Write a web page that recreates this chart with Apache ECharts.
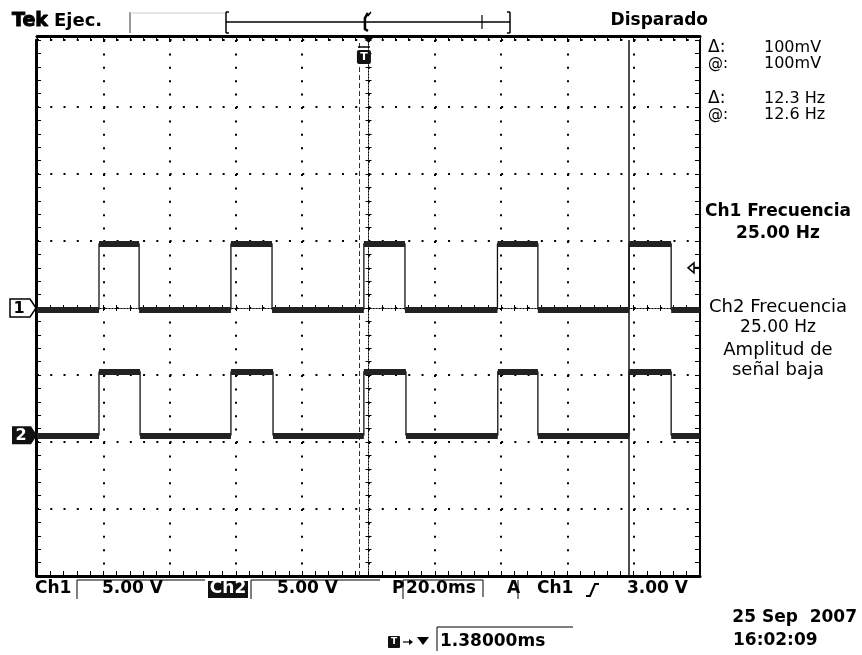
<!DOCTYPE html>
<html>
<head>
<meta charset="utf-8">
<script src="https://cdn.jsdelivr.net/npm/echarts@6/dist/echarts.min.js"></script>
<style>
  html, body { margin: 0; padding: 0; background: #fff; }
  #scope { width: 862px; height: 655px; }
</style>
</head>
<body>
<div id="scope"></div>
<script>
// ---- Time base: 20 ms/div over 10 divisions ----
const msPerDiv = 20;
const timeMin = -100;
const timeMax = 100;

// ---- Vertical scale: 5 V/div over 8 divisions ----
const ch1VoltsPerDiv = 5;
const ch2VoltsPerDiv = 5;
const ch2PositionDiv = -1.9;   // Ch2 ground marker below screen centre

// ---- Channel 1 square wave (edge times in ms, levels in V) ----
const ch1Rise = [-81.3, -41.5, -1.4, 38.9, 78.6];
const ch1Fall = [-69.2, -29.1, 11.0, 51.1, 91.3];
const ch1Low = -0.1;
const ch1High = 4.8;

// ---- Channel 2 square wave ----
const ch2Rise = [-81.3, -41.5, -1.4, 39.0, 78.6];
const ch2Fall = [-68.9, -28.8, 11.3, 51.1, 91.3];
const ch2Low = 0.0;
const ch2High = 4.75;

// ---- Time cursors (ms) and trigger ----
const cursorTimes = [-2.7, 78.6];
const triggerTime = -1.38;
const triggerLevel = 3.0;

const FONT = '"DejaVu Sans", sans-serif';

function buildTrace(rises, falls, low, high) {
  const pts = [[timeMin, low]];
  rises.forEach((r, i) => {
    pts.push([r, low], [r, high], [falls[i], high], [falls[i], low]);
  });
  pts.push([timeMax, low]);
  return pts;
}

function buildPlateaus(rises, falls, low, high) {
  const segs = [];
  let start = timeMin;
  rises.forEach((r, i) => {
    segs.push({ coords: [[start, low], [r, low]] });
    segs.push({ coords: [[r, high], [falls[i], high]] });
    start = falls[i];
  });
  segs.push({ coords: [[start, low], [timeMax, low]] });
  return segs;
}

const ch1Span = 4 * ch1VoltsPerDiv;
const ch2Min = (-4 - ch2PositionDiv) * ch2VoltsPerDiv;
const ch2Max = (4 - ch2PositionDiv) * ch2VoltsPerDiv;

const hidden = { show: false };
function timeAxis(extra) {
  return Object.assign({
    type: 'value', min: timeMin, max: timeMax, interval: msPerDiv,
    axisLabel: hidden, splitLine: hidden,
    axisTick: hidden, minorTick: hidden,
    axisLine: { show: false, onZero: false }
  }, extra);
}
function voltAxis(extra) {
  return Object.assign({
    type: 'value', min: -ch1Span, max: ch1Span, interval: ch1VoltsPerDiv,
    axisLabel: hidden, splitLine: hidden,
    axisTick: hidden, minorTick: hidden,
    axisLine: { show: false, onZero: false }
  }, extra);
}
const edgeTick = { show: true, inside: true, length: 5, lineStyle: { color: '#000', width: 1 } };
const edgeMinor = { show: true, splitNumber: 5, length: 5, lineStyle: { color: '#000', width: 1 } };
const crossTickOut = { show: true, inside: false, length: 3, lineStyle: { color: '#000', width: 1 } };
const crossTickIn = { show: true, inside: true, length: 3, lineStyle: { color: '#000', width: 1 } };
const crossMinor = { show: true, splitNumber: 5, length: 3, lineStyle: { color: '#000', width: 1 } };
const centreLine = { show: true, onZero: true, onZeroAxisIndex: 0, lineStyle: { color: '#000', width: 1, type: [1, 2] } };

const chart = echarts.init(document.getElementById('scope'));

chart.setOption({
  animation: false,
  backgroundColor: '#fff',
  grid: { left: 37, top: 40, width: 663, height: 536, show: false },
  xAxis: [
    timeAxis({
      position: 'bottom',
      axisLine: { show: true, onZero: false, lineStyle: { color: '#000', width: 3 } },
      axisTick: edgeTick, minorTick: edgeMinor,
      splitLine: { show: true, lineStyle: { color: '#000', width: 2, type: [2, 11.4] } }
    }),
    timeAxis({
      position: 'top', offset: 4,
      axisLine: { show: true, onZero: false, lineStyle: { color: '#000', width: 3 } },
      axisTick: edgeTick, minorTick: edgeMinor
    }),
    timeAxis({ position: 'bottom', axisLine: centreLine, axisTick: crossTickOut, minorTick: crossMinor }),
    timeAxis({ position: 'bottom', axisLine: centreLine, axisTick: crossTickIn, minorTick: crossMinor })
  ],
  yAxis: [
    voltAxis({
      position: 'left', offset: 1,
      axisLine: { show: true, onZero: false, lineStyle: { color: '#000', width: 3 } },
      axisTick: edgeTick, minorTick: edgeMinor,
      splitLine: { show: true, lineStyle: { color: '#000', width: 2, type: [2, 11.26] } }
    }),
    { type: 'value', min: ch2Min, max: ch2Max, show: false },
    voltAxis({
      position: 'right',
      axisLine: { show: true, onZero: false, lineStyle: { color: '#000', width: 2 } },
      axisTick: edgeTick, minorTick: edgeMinor
    }),
    voltAxis({ position: 'left', axisLine: centreLine, axisTick: crossTickOut, minorTick: crossMinor }),
    voltAxis({ position: 'left', axisLine: centreLine, axisTick: crossTickIn, minorTick: crossMinor })
  ],
  series: [
    {
      name: 'Ch1', type: 'line', xAxisIndex: 0, yAxisIndex: 0,
      data: buildTrace(ch1Rise, ch1Fall, ch1Low, ch1High),
      showSymbol: false, symbol: 'none',
      lineStyle: { color: '#111', width: 1.3 },
      z: 5,
      markLine: {
        silent: true, symbol: ['none', 'none'], label: { show: false },
        data: [
          { xAxis: cursorTimes[0], lineStyle: { color: '#333', width: 1, type: [5, 3] } },
          { xAxis: cursorTimes[1], lineStyle: { color: '#111', width: 1.5, type: 'solid' } }
        ]
      }
    },
    {
      name: 'Ch1 plateaus', type: 'lines', coordinateSystem: 'cartesian2d',
      xAxisIndex: 0, yAxisIndex: 0,
      data: buildPlateaus(ch1Rise, ch1Fall, ch1Low, ch1High),
      lineStyle: { color: '#222', width: 6, opacity: 1, cap: 'butt' },
      z: 6
    },
    {
      name: 'Ch2', type: 'line', xAxisIndex: 0, yAxisIndex: 1,
      data: buildTrace(ch2Rise, ch2Fall, ch2Low, ch2High),
      showSymbol: false, symbol: 'none',
      lineStyle: { color: '#111', width: 1.3 },
      z: 5
    },
    {
      name: 'Ch2 plateaus', type: 'lines', coordinateSystem: 'cartesian2d',
      xAxisIndex: 0, yAxisIndex: 1,
      data: buildPlateaus(ch2Rise, ch2Fall, ch2Low, ch2High),
      lineStyle: { color: '#222', width: 6, opacity: 1, cap: 'butt' },
      z: 6
    }
  ]
});

// ---- Screen annotations ----
function txt(text, x, y, size, opts) {
  opts = opts || {};
  return {
    type: 'text', silent: true, z: 110,
    style: Object.assign({
      text: text, x: x, y: y,
      font: (opts.bold ? 'bold ' : '') + size + 'px ' + FONT,
      fill: opts.fill || '#000',
      align: opts.align || 'left', verticalAlign: 'middle'
    }, opts.style || {})
  };
}
function seg(x1, y1, x2, y2, w, color) {
  return {
    type: 'line', silent: true, z: 100,
    shape: { x1: x1, y1: y1, x2: x2, y2: y2 },
    style: { stroke: color || '#000', lineWidth: w || 1 }
  };
}
function box(x, y, w, h, fill, r) {
  return { type: 'rect', silent: true, z: 100, shape: { x: x, y: y, width: w, height: h, r: r || 0 }, style: { fill: fill } };
}

const ch1Zero = chart.convertToPixel({ xAxisIndex: 0, yAxisIndex: 0 }, [timeMin, 0]);
const ch2Zero = chart.convertToPixel({ xAxisIndex: 0, yAxisIndex: 1 }, [timeMin, 0]);
const trigLvl = chart.convertToPixel({ xAxisIndex: 0, yAxisIndex: 0 }, [timeMax, triggerLevel]);
const centre = chart.convertToPixel({ xAxisIndex: 0, yAxisIndex: 0 }, [0, 0]);
const trigPt = chart.convertToPixel({ xAxisIndex: 0, yAxisIndex: 0 }, [triggerTime, 0]);

const g = [];

// Header
g.push(txt('Tek', 12, 21, 19, { bold: true, style: { stroke: '#000', lineWidth: 1 } }));
g.push(txt('Ejec.', 54, 21, 18, { bold: true }));
g.push(txt('Disparado', 708, 21, 17, { bold: true, align: 'right' }));

// Record-length bar
g.push(seg(130, 12, 130, 33, 1, '#333'));
g.push(seg(130, 13, 226, 13, 1, '#ccc'));
g.push(seg(226, 12, 226, 33, 1.5, '#000'));
g.push(seg(226, 12, 229, 12, 1.5, '#000'));
g.push(seg(226, 33, 229, 33, 1.5, '#000'));
g.push(seg(226, 22, 510, 22, 1.5, '#000'));
g.push(seg(482, 15, 482, 29, 1.2, '#000'));
g.push(seg(510, 12, 510, 33, 1.5, '#000'));
g.push(seg(507, 12, 510, 12, 1.5, '#000'));
g.push(seg(507, 33, 510, 33, 1.5, '#000'));
g.push({
  type: 'polyline', silent: true, z: 101,
  shape: { points: [[trigPt[0] + 4, 13], [trigPt[0] + 1, 18], [trigPt[0] + 1, 29], [trigPt[0] + 4, 31]] },
  style: { stroke: '#000', lineWidth: 2.5, fill: null }
});
g.push(seg(trigPt[0] + 4, 16, trigPt[0] + 7, 12, 1.5, '#000'));

// Expansion point (centre) and trigger position marker
g.push({
  type: 'polygon', silent: true, z: 101,
  shape: { points: [[centre[0] - 7, 35], [centre[0] + 7, 35], [centre[0], 43]] },
  style: { fill: '#000' }
});
g.push(seg(trigPt[0] - 6, 47, trigPt[0] + 6, 47, 1.5, '#000'));
g.push(box(trigPt[0] - 7, 50, 14, 14, '#111', 2));
g.push(txt('T', trigPt[0], 57, 11, { bold: true, fill: '#fff', align: 'center' }));

// Channel ground markers
g.push({
  type: 'polygon', silent: true, z: 101,
  shape: { points: [[10, ch1Zero[1] - 9], [30, ch1Zero[1] - 9], [36, ch1Zero[1]], [30, ch1Zero[1] + 9], [10, ch1Zero[1] + 9]] },
  style: { fill: '#fff', stroke: '#000', lineWidth: 1.5 }
});
g.push(txt('1', 19, ch1Zero[1] + 1, 16, { bold: true, align: 'center' }));
g.push({
  type: 'polygon', silent: true, z: 101,
  shape: { points: [[12, ch2Zero[1] - 9], [31, ch2Zero[1] - 9], [37, ch2Zero[1]], [31, ch2Zero[1] + 9], [12, ch2Zero[1] + 9]] },
  style: { fill: '#111' }
});
g.push(txt('2', 21, ch2Zero[1] + 1, 16, { bold: true, fill: '#fff', align: 'center' }));

// Trigger level arrow on the right edge
g.push({
  type: 'polygon', silent: true, z: 101,
  shape: { points: [[688, trigLvl[1]], [694, trigLvl[1] - 5], [694, trigLvl[1] + 5]] },
  style: { fill: '#fff', stroke: '#000', lineWidth: 1.5 }
});
g.push(seg(694, trigLvl[1], 700, trigLvl[1], 2, '#000'));

// Cursor readouts
g.push(txt('\u0394:', 708, 48, 17));
g.push(txt('100mV', 764, 48, 16));
g.push(txt('@:', 708, 64, 15));
g.push(txt('100mV', 764, 64, 16));
g.push(txt('\u0394:', 708, 99, 17));
g.push(txt('12.3 Hz', 764, 99, 16));
g.push(txt('@:', 708, 115, 15));
g.push(txt('12.6 Hz', 764, 115, 16));

// Measurements
g.push(txt('Ch1 Frecuencia', 778, 212, 17, { bold: true, align: 'center' }));
g.push(txt('25.00 Hz', 778, 234, 17, { bold: true, align: 'center' }));
g.push(txt('Ch2 Frecuencia', 778, 307, 18, { align: 'center' }));
g.push(txt('25.00 Hz', 778, 328, 17, { align: 'center' }));
g.push(txt('Amplitud de', 778, 350, 18, { align: 'center' }));
g.push(txt('se\u00f1al baja', 778, 370, 18, { align: 'center' }));

// Status bar
const sy = 589;
g.push(txt('Ch1', 35, sy, 17, { bold: true }));
g.push(seg(77, 580, 77, 599, 1, '#000'));
g.push(seg(77, 580, 205, 580, 1, '#000'));
g.push(txt('5.00 V', 102, sy, 17, { bold: true }));
g.push(box(208, 581, 40, 17, '#111'));
g.push(txt('Ch2', 228, sy, 17, { bold: true, fill: '#fff', align: 'center' }));
g.push(seg(251, 580, 251, 599, 1, '#000'));
g.push(seg(251, 580, 380, 580, 1, '#000'));
g.push(txt('5.00 V', 277, sy, 17, { bold: true }));
g.push(txt('P', 392, sy, 17, { bold: true }));
g.push(seg(403, 580, 403, 599, 1, '#000'));
g.push(seg(403, 580, 483, 580, 1, '#000'));
g.push(seg(483, 580, 483, 597, 1, '#000'));
g.push(txt('20.0ms', 406, sy, 17, { bold: true }));
g.push(txt('A', 507, sy, 17, { bold: true }));
g.push(seg(518, 580, 518, 599, 1, '#000'));
g.push(txt('Ch1', 537, sy, 17, { bold: true }));
g.push({
  type: 'polyline', silent: true, z: 100,
  shape: { points: [[586, 596], [590, 596], [595, 584], [599, 584]] },
  style: { stroke: '#000', lineWidth: 2, fill: null }
});
g.push(txt('3.00 V', 627, sy, 17, { bold: true }));

// Horizontal position readout
const py = 642;
g.push(box(388, py - 6, 12, 12, '#111', 1));
g.push(txt('T', 394, py, 9, { bold: true, fill: '#fff', align: 'center' }));
g.push(seg(403, py, 410, py, 1.2, '#000'));
g.push({ type: 'polygon', silent: true, z: 100, shape: { points: [[409, py - 3], [413, py], [409, py + 3]] }, style: { fill: '#000' } });
g.push({ type: 'polygon', silent: true, z: 100, shape: { points: [[417, py - 5], [429, py - 5], [423, py + 3]] }, style: { fill: '#000' } });
g.push(seg(437, py - 15, 437, py + 9, 1, '#000'));
g.push(seg(437, py - 15, 573, py - 15, 1, '#000'));
g.push(txt('1.38000ms', 440, py, 17, { bold: true }));

// Date / time stamp
g.push(txt('25 Sep  2007', 857, 618, 17, { bold: true, align: 'right' }));
g.push(txt('16:02:09', 733, 641, 17, { bold: true }));

chart.setOption({ graphic: { elements: g } });
</script>
</body>
</html>
